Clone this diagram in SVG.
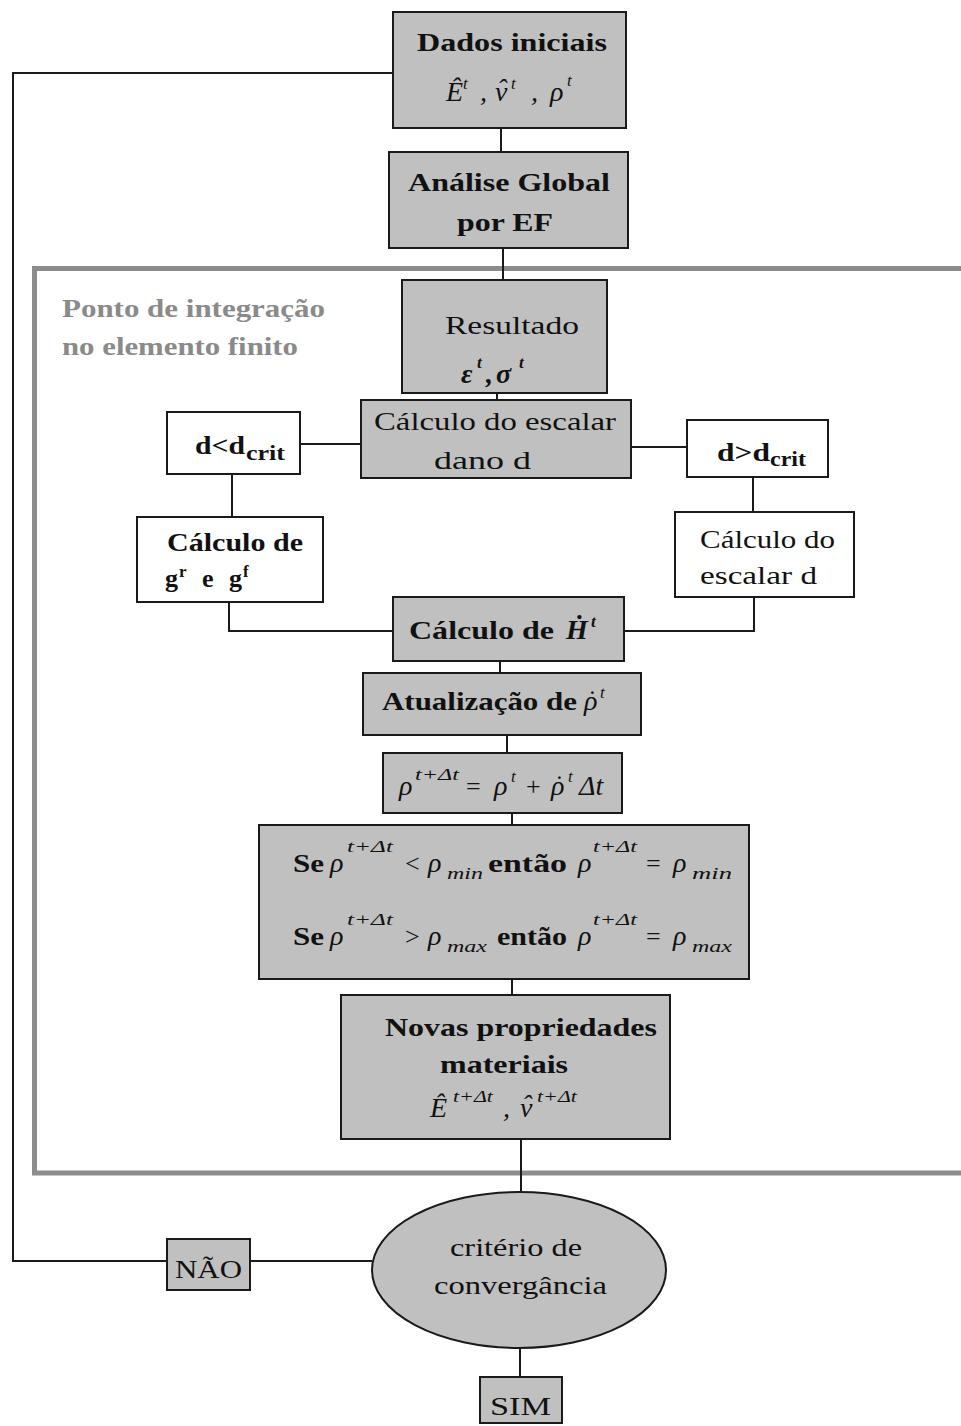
<svg xmlns="http://www.w3.org/2000/svg" width="961" height="1426" viewBox="0 0 961 1426">
<style>
.box{fill:#c0c0c0;stroke:#1a1a1a;stroke-width:2}
.wbox{fill:#ffffff;stroke:#1a1a1a;stroke-width:2}
.c{fill:none;stroke:#1a1a1a;stroke-width:2}
.frame{fill:none;stroke:#8c8c8c;stroke-width:5}
text{font-family:"Liberation Serif","Times New Roman",serif;font-size:26px;fill:#111111}
.b{font-weight:bold}
.m{font-size:28px;font-style:italic}
.sp{font-size:17px;font-style:italic}
.n{font-style:normal}
.gray{fill:#8a8a8a;font-weight:bold}
</style>
<rect x="0" y="0" width="961" height="1426" fill="#ffffff"/>
<rect id="frame" class="frame" x="34.5" y="268.5" width="1000" height="904.5"/>
<g id="connectors">
<polyline class="c" points="393,73 13,73 13,1261 167,1261"/>
<line class="c" x1="501" y1="128" x2="501" y2="152"/>
<line class="c" x1="503" y1="248" x2="503" y2="280"/>
<line class="c" x1="497" y1="393" x2="497" y2="400"/>
<line class="c" x1="300" y1="444" x2="362" y2="444"/>
<line class="c" x1="631" y1="447" x2="687" y2="447"/>
<line class="c" x1="232" y1="474" x2="232" y2="517"/>
<line class="c" x1="753" y1="477" x2="753" y2="512"/>
<polyline class="c" points="229,602 229,631 393,631"/>
<polyline class="c" points="754,597 754,631 624,631"/>
<line class="c" x1="500" y1="661" x2="500" y2="673"/>
<line class="c" x1="507" y1="735" x2="507" y2="753"/>
<line class="c" x1="512" y1="813" x2="512" y2="825"/>
<line class="c" x1="512" y1="979" x2="512" y2="995"/>
<line class="c" x1="521" y1="1139" x2="521" y2="1192"/>
<line class="c" x1="250" y1="1261" x2="372" y2="1261"/>
<line class="c" x1="520" y1="1348" x2="520" y2="1377"/>
</g>
<g id="dados">
<rect class="box" x="393" y="12" width="233" height="116"/>
<text class="b" x="417" y="51" textLength="190" lengthAdjust="spacingAndGlyphs">Dados iniciais</text>
<text class="m"><tspan x="446" y="101">Ê</tspan><tspan class="sp" x="463" y="89">t</tspan><tspan x="480" y="101">,</tspan><tspan x="495" y="101">ν</tspan><tspan x="497" y="98">ˆ</tspan><tspan class="sp" x="511" y="89">t</tspan><tspan x="531" y="101">,</tspan><tspan x="550" y="101">ρ</tspan><tspan class="sp" x="567" y="86">t</tspan></text>
</g>
<g id="analise">
<rect class="box" x="389" y="152" width="239" height="96"/>
<text class="b" x="408" y="191" textLength="202" lengthAdjust="spacingAndGlyphs">Análise Global</text>
<text class="b" x="457" y="231" textLength="96" lengthAdjust="spacingAndGlyphs">por EF</text>
</g>
<g id="ponto">
<text class="gray" x="62" y="317" textLength="263" lengthAdjust="spacingAndGlyphs">Ponto de integração</text>
<text class="gray" x="62" y="355" textLength="236" lengthAdjust="spacingAndGlyphs">no elemento finito</text>
</g>
<g id="resultado">
<rect class="box" x="402" y="280" width="205" height="113"/>
<text x="445" y="334" textLength="134" lengthAdjust="spacingAndGlyphs">Resultado</text>
<text class="m b"><tspan x="461" y="383">ε</tspan><tspan class="sp" x="477" y="368">t</tspan><tspan x="486" y="383">,</tspan><tspan x="496" y="383">σ</tspan><tspan class="sp" x="519" y="368">t</tspan></text>
</g>
<g id="escalar">
<rect class="box" x="361" y="400" width="270" height="78"/>
<text x="374" y="430" textLength="242" lengthAdjust="spacingAndGlyphs">Cálculo do escalar</text>
<text x="434" y="469" textLength="97" lengthAdjust="spacingAndGlyphs">dano d</text>
</g>
<g id="dmenor">
<rect class="wbox" x="167" y="412" width="133" height="62"/>
<text class="b"><tspan x="195" y="454" textLength="50" lengthAdjust="spacingAndGlyphs">d&lt;d</tspan><tspan x="246" y="460" font-size="20" textLength="39" lengthAdjust="spacingAndGlyphs">crit</tspan></text>
</g>
<g id="dmaior">
<rect class="wbox" x="687" y="420" width="141" height="57"/>
<text class="b"><tspan x="717" y="461" textLength="53" lengthAdjust="spacingAndGlyphs">d&gt;d</tspan><tspan x="770" y="466" font-size="20" textLength="36" lengthAdjust="spacingAndGlyphs">crit</tspan></text>
</g>
<g id="calcg">
<rect class="wbox" x="137" y="517" width="186" height="85"/>
<text class="b" x="167" y="551" textLength="136" lengthAdjust="spacingAndGlyphs">Cálculo de</text>
<text class="b"><tspan x="165" y="587">g</tspan><tspan font-size="17" x="179" y="577">r</tspan><tspan x="202" y="587">e</tspan><tspan x="229" y="587">g</tspan><tspan font-size="17" x="243" y="577">f</tspan></text>
</g>
<g id="calcd">
<rect class="wbox" x="675" y="512" width="179" height="85"/>
<text x="700" y="548" textLength="135" lengthAdjust="spacingAndGlyphs">Cálculo do</text>
<text x="700" y="584" textLength="117" lengthAdjust="spacingAndGlyphs">escalar d</text>
</g>
<g id="calch">
<rect class="box" x="393" y="597" width="231" height="64"/>
<text class="b"><tspan x="409" y="639" textLength="145" lengthAdjust="spacingAndGlyphs">Cálculo de</tspan><tspan class="m" x="566" y="639">Ḣ</tspan><tspan class="sp" x="591" y="627">t</tspan></text>
</g>
<g id="atualiza">
<rect class="box" x="363" y="673" width="278" height="62"/>
<text class="b"><tspan x="382" y="710" textLength="195" lengthAdjust="spacingAndGlyphs">Atualização de</tspan><tspan class="m" font-weight="normal" x="584" y="710">ρ</tspan><tspan class="n" font-weight="normal" font-size="26" x="588" y="708">˙</tspan><tspan class="sp" font-weight="normal" x="600" y="698">t</tspan></text>
</g>
<g id="formula">
<rect class="box" x="383" y="753" width="239" height="60"/>
<text class="m"><tspan x="399" y="795">ρ</tspan><tspan class="sp" x="415" y="780" textLength="44" lengthAdjust="spacingAndGlyphs">t+Δt</tspan><tspan class="n" font-size="26" x="466" y="795">=</tspan><tspan x="494" y="795">ρ</tspan><tspan class="sp" x="511" y="782">t</tspan><tspan class="n" font-size="26" x="526" y="795">+</tspan><tspan x="551" y="795">ρ</tspan><tspan class="n" font-size="26" x="555" y="793">˙</tspan><tspan class="sp" x="568" y="782">t</tspan><tspan x="579" y="795">Δt</tspan></text>
</g>
<g id="limites">
<rect class="box" x="259" y="825" width="490" height="154"/>
<text><tspan class="b" x="293" y="872" textLength="31" lengthAdjust="spacingAndGlyphs">Se</tspan><tspan class="m" x="330" y="872">ρ</tspan><tspan class="sp" x="347" y="852" textLength="46" lengthAdjust="spacingAndGlyphs">t+Δt</tspan><tspan x="405" y="872">&lt;</tspan><tspan class="m" x="428" y="872">ρ</tspan><tspan class="sp" font-size="19" x="447" y="879" textLength="36" lengthAdjust="spacingAndGlyphs">min</tspan><tspan class="b" x="488" y="872" textLength="79" lengthAdjust="spacingAndGlyphs">então</tspan><tspan class="m" x="578" y="872">ρ</tspan><tspan class="sp" x="593" y="852" textLength="44" lengthAdjust="spacingAndGlyphs">t+Δt</tspan><tspan x="646" y="872">=</tspan><tspan class="m" x="673" y="872">ρ</tspan><tspan class="sp" font-size="19" x="692" y="879" textLength="40" lengthAdjust="spacingAndGlyphs">min</tspan></text>
<text><tspan class="b" x="293" y="945" textLength="31" lengthAdjust="spacingAndGlyphs">Se</tspan><tspan class="m" x="330" y="945">ρ</tspan><tspan class="sp" x="347" y="925" textLength="46" lengthAdjust="spacingAndGlyphs">t+Δt</tspan><tspan x="405" y="945">&gt;</tspan><tspan class="m" x="428" y="945">ρ</tspan><tspan class="sp" font-size="19" x="447" y="952" textLength="40" lengthAdjust="spacingAndGlyphs">max</tspan><tspan class="b" x="497" y="945" textLength="70" lengthAdjust="spacingAndGlyphs">então</tspan><tspan class="m" x="578" y="945">ρ</tspan><tspan class="sp" x="593" y="925" textLength="44" lengthAdjust="spacingAndGlyphs">t+Δt</tspan><tspan x="646" y="945">=</tspan><tspan class="m" x="673" y="945">ρ</tspan><tspan class="sp" font-size="19" x="692" y="952" textLength="40" lengthAdjust="spacingAndGlyphs">max</tspan></text>
</g>
<g id="novas">
<rect class="box" x="341" y="995" width="329" height="144"/>
<text class="b" x="385" y="1036" textLength="272" lengthAdjust="spacingAndGlyphs">Novas propriedades</text>
<text class="b" x="440" y="1073" textLength="128" lengthAdjust="spacingAndGlyphs">materiais</text>
<text class="m"><tspan x="430" y="1117">Ê</tspan><tspan class="sp" x="453" y="1102" textLength="40" lengthAdjust="spacingAndGlyphs">t+Δt</tspan><tspan x="503" y="1117">,</tspan><tspan x="520" y="1117">ν</tspan><tspan x="522" y="1114">ˆ</tspan><tspan class="sp" x="537" y="1102" textLength="40" lengthAdjust="spacingAndGlyphs">t+Δt</tspan></text>
</g>
<g id="criterio">
<ellipse class="box" cx="519" cy="1270" rx="147" ry="78"/>
<text x="450" y="1256" textLength="132" lengthAdjust="spacingAndGlyphs">critério de</text>
<text x="434" y="1294" textLength="173" lengthAdjust="spacingAndGlyphs">convergância</text>
</g>
<g id="nao">
<rect class="box" x="167" y="1239" width="83" height="51"/>
<text x="175" y="1278" textLength="67" lengthAdjust="spacingAndGlyphs">NÃO</text>
</g>
<g id="sim">
<rect class="box" x="480" y="1377" width="82" height="46"/>
<text x="490" y="1415" textLength="61" lengthAdjust="spacingAndGlyphs">SIM</text>
</g>
</svg>
